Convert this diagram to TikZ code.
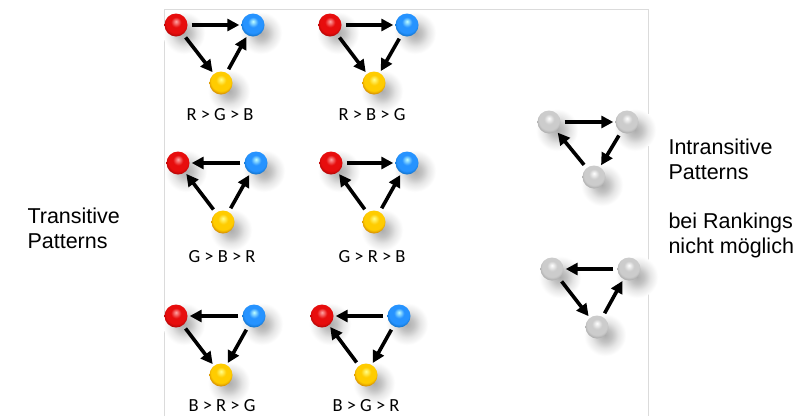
\documentclass[tikz,border=0pt]{standalone}
\usepackage{fontspec}
\setmainfont{Liberation Sans}
\newfontfamily\labelfont{Carlito}
\usetikzlibrary{arrows.meta}

% soft drop shadow (the path edge sits at 25bp)
\pgfdeclareradialshading{softshadow}{\pgfpoint{0bp}{0bp}}{%
  color(0bp)=(black!32); color(8bp)=(black!24); color(16bp)=(black!10);
  color(25bp)=(white); color(50bp)=(white)}

% glossy balls with a highlight near the top
\newcommand\glossyball[4]{%
  \pgfdeclareradialshading{#1}{\pgfpoint{0bp}{8bp}}{%
    color(0bp)=(#2); color(11bp)=(#3); color(22bp)=(#3);
    color(32bp)=(#4); color(50bp)=(#4)}}
\glossyball{redball}{red!35!white}{red!90!black!95!white}{red!55!black}
\glossyball{blueball}{cyan!25!white}{blue!50!cyan!85!white}{blue!45!cyan!65!black}
\glossyball{yellowball}{yellow!45!white}{orange!40!yellow}{orange!70!black}
\glossyball{grayball}{white}{black!20}{black!42}

\tikzset{
  ball/.style={circle, minimum size=23pt, inner sep=0pt, shading=#1},
  link/.style={line width=3.6pt, -{Triangle[length=12pt,width=12pt]},
    shorten <=4pt, shorten >=2pt},
  rank/.style={font=\labelfont\fontsize{18.5}{20}\selectfont, inner sep=1pt},
  side/.style={font=\fontsize{21.5}{25}\selectfont, align=left, anchor=west},
}

\begin{document}
\begin{tikzpicture}[x=1pt,y=-1pt]
\useasboundingbox (0,0) rectangle (810,416);
\fill[white] (0,0) rectangle (810,416);

% frame around the transitive patterns
\draw[black!14, line width=1pt] (164.5,416) |- (648,9.5) -- (648,416);

% ball positions: red, blue, yellow for each pattern
\foreach \n/\rx/\bx/\yx/\ty/\by in {
    1/176/253/221/25/83, 2/330/407/374/25/83,
    3/178/256/223/163/222, 4/331/407/374/163/222,
    5/176/254/221/316/375, 6/322/399/366/316/375}{
  \coordinate (cr\n) at (\rx,\ty);
  \coordinate (cb\n) at (\bx,\ty);
  \coordinate (cy\n) at (\yx,\by);
}
\coordinate (cl1) at (549,122);
\coordinate (cr7) at (627,122);
\coordinate (cd1) at (594,177);
\coordinate (cl2) at (552,269);
\coordinate (cr8) at (629,269);
\coordinate (cd2) at (597,327);

% shadows
\foreach \c in {cr1,cb1,cy1,cr2,cb2,cy2,cr3,cb3,cy3,cr4,cb4,cy4,
                cr5,cb5,cy5,cr6,cb6,cy6,cl1,cr7,cd1,cl2,cr8,cd2}{
  \shade[shading=softshadow] ([shift={(8,8)}]\c) circle (21pt);
}

% balls
\foreach \n in {1,...,6}{
  \node[ball=redball]    (r\n) at (cr\n) {};
  \node[ball=blueball]   (b\n) at (cb\n) {};
  \node[ball=yellowball] (y\n) at (cy\n) {};
}
\node[ball=grayball] (pa) at (cl1) {};
\node[ball=grayball] (pb) at (cr7) {};
\node[ball=grayball] (pc) at (cd1) {};
\node[ball=grayball] (qa) at (cl2) {};
\node[ball=grayball] (qb) at (cr8) {};
\node[ball=grayball] (qc) at (cd2) {};

% R > G > B
\draw[link] (r1) -- (b1);
\draw[link] (r1) -- (y1);
\draw[link] (y1) -- (b1);
% R > B > G
\draw[link] (r2) -- (b2);
\draw[link] (r2) -- (y2);
\draw[link] (b2) -- (y2);
% G > B > R
\draw[link] (b3) -- (r3);
\draw[link] (y3) -- (r3);
\draw[link] (y3) -- (b3);
% G > R > B
\draw[link] (r4) -- (b4);
\draw[link] (y4) -- (r4);
\draw[link] (y4) -- (b4);
% B > R > G
\draw[link] (b5) -- (r5);
\draw[link] (r5) -- (y5);
\draw[link] (b5) -- (y5);
% B > G > R
\draw[link] (b6) -- (r6);
\draw[link] (y6) -- (r6);
\draw[link] (b6) -- (y6);
% cycles
\draw[link] (pa) -- (pb);
\draw[link] (pb) -- (pc);
\draw[link] (pc) -- (pa);
\draw[link] (qb) -- (qa);
\draw[link] (qa) -- (qc);
\draw[link] (qc) -- (qb);

% rank labels
\node[rank] (l1) at (220,115) {R > G > B};
\node[rank] (l2) at (372,115) {R > B > G};
\node[rank] (l3) at (222,257) {G > B > R};
\node[rank] (l4) at (372,257) {G > R > B};
\node[rank] (l5) at (222,406) {B > R > G};
\node[rank] (l6) at (366,406) {B > G > R};

% side texts
\node[side] (tr) at (24,228) {Transitive\\Patterns};
\node[side] (in) at (665,159) {Intransitive\\Patterns};
\node[side] (nm) at (665,235) {bei Rankings\\nicht möglich};
\end{tikzpicture}
\end{document}
